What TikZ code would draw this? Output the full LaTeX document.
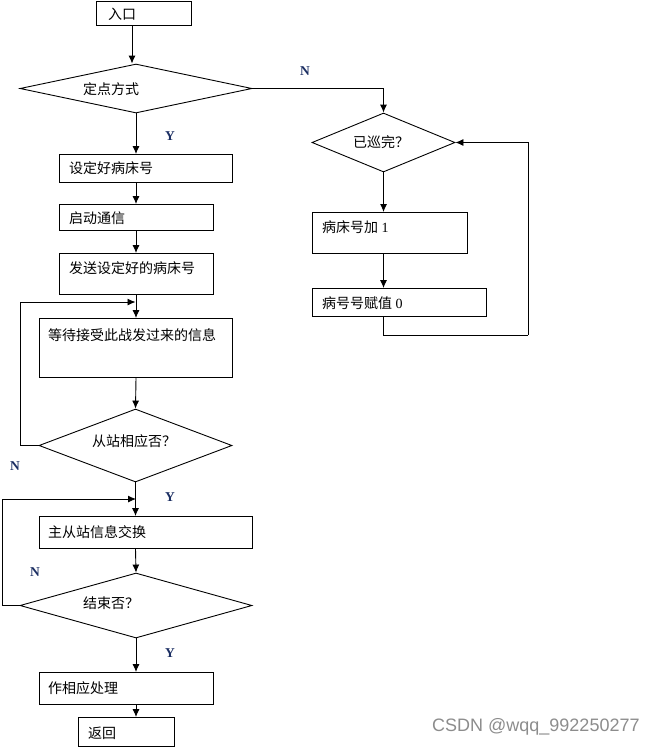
\documentclass[tikz,border=0pt]{standalone}
\usepackage{fontspec}
\setmainfont{Liberation Serif}
\newfontfamily\cjk{Noto Sans CJK SC}
\newfontfamily\marksans{Liberation Sans}
\usetikzlibrary{shapes.geometric,arrows.meta,positioning}
\definecolor{ynblue}{HTML}{1C2F63}
\tikzset{
  box/.style={draw=black,line width=0.9pt,rectangle,inner sep=0pt,anchor=north west},
  decision/.style={draw=black,line width=0.9pt,shape=diamond,inner sep=0pt},
  txt/.style={font=\fontsize{14}{16}\selectfont,inner sep=0pt,anchor=west},
  yn/.style={font=\fontsize{13.5}{15}\selectfont\bfseries,text=ynblue,inner sep=0pt},
  line/.style={line width=0.9pt}
}
\begin{document}
\begin{tikzpicture}[x=1pt,y=-1pt,>={Latex[length=8pt,width=7pt]}]
  \useasboundingbox (0,0) rectangle (660,747);

  % left column
  \node[box,minimum width=95pt,minimum height=24pt] (entry) at (96,1) {};
  \node[txt] (entryT) at (108,14) {\cjk 入口};

  \node[decision,minimum width=232pt,minimum height=49pt] (mode) at (136,88.5) {};
  \node[txt] (modeT) at (83,89) {\cjk 定点方式};

  \node[box,minimum width=173pt,minimum height=28pt] (set) at (59,154) {};
  \node[txt] (setT) at (69,168) {\cjk 设定好病床号};

  \node[box,minimum width=154pt,minimum height=26pt] (comm) at (59,204) {};
  \node[txt] (commT) at (69,218) {\cjk 启动通信};

  \node[box,minimum width=154pt,minimum height=41pt] (send) at (59,253) {};
  \node[txt] (sendT) at (69,268) {\cjk 发送设定好的病床号};

  \node[box,minimum width=193pt,minimum height=59pt] (wait) at (39,318) {};
  \node[txt] (waitT) at (48,335) {\cjk 等待接受此战发过来的信息};

  \node[decision,minimum width=193pt,minimum height=73pt] (reply) at (135.5,445.5) {};
  \node[txt] (replyT) at (92,441) {\cjk 从站相应否？};

  \node[box,minimum width=213pt,minimum height=32pt] (swap) at (39,516) {};
  \node[txt] (swapT) at (48,532) {\cjk 主从站信息交换};

  \node[decision,minimum width=232pt,minimum height=65pt] (over) at (136,605.5) {};
  \node[txt] (overT) at (83,603) {\cjk 结束否？};

  \node[box,minimum width=174pt,minimum height=32pt] (proc) at (39,672) {};
  \node[txt] (procT) at (48,688) {\cjk 作相应处理};

  \node[box,minimum width=96pt,minimum height=29pt] (ret) at (78,717) {};
  \node[txt] (retT) at (88,733) {\cjk 返回};

  % right column
  \node[decision,minimum width=143pt,minimum height=59pt] (done) at (383.5,142.5) {};
  \node[txt] (doneT) at (353,142) {\cjk 已巡完？};

  \node[box,minimum width=155pt,minimum height=41pt] (add) at (312,212) {};
  \node[txt] (addT) at (322,227) {{\cjk 病床号加} 1};

  \node[box,minimum width=174pt,minimum height=28pt] (zero) at (312,288) {};
  \node[txt] (zeroT) at (322,303) {{\cjk 病号号赋值} 0};

  % labels
  \node[yn] (n1) at (305,71) {N};
  \node[yn] (y1) at (170,136) {Y};
  \node[yn] (n2) at (15,466) {N};
  \node[yn] (y2) at (170,497) {Y};
  \node[yn] (n3) at (35,572) {N};
  \node[yn] (y3) at (170,653) {Y};

  % corners
  \coordinate (c1) at (528,335);
  \coordinate (c2) at (20,302);
  \coordinate (c3) at (2,499);

  % connectors
  \draw[line,->] (entry.south -| 132,0) -- (mode.north -| 132,0);
  \draw[line,->] (mode.south) -- (set.north -| mode);
  \draw[line,->] (set.south -| mode) -- (comm.north -| mode);
  \draw[line,->] (comm.south -| mode) -- (send.north -| mode);
  \draw[line,->] (send.south -| mode) -- (wait.north -| mode);
  \draw[line,->] (wait.south -| mode) -- (reply.north);
  \draw[line,->] (reply.south) -- (swap.north -| reply);
  \draw[line,->] (swap.south -| reply) -- (over.north);
  \draw[line,->] (over.south) -- (proc.north -| over);
  \draw[line,->] (proc.south -| over) -- (ret.north -| over);

  \draw[line] (reply.west) -| (c2);
  \draw[line,->] (c2) -- (c2 -| reply);
  \draw[line] (over.west) -| (c3);
  \draw[line,->] (c3) -- (c3 -| over);

  \draw[line,->] (mode.east) -| (done.north);
  \draw[line,->] (done.south) -- (add.north -| done);
  \draw[line,->] (add.south -| done) -- (zero.north -| done);
  \draw[line] (zero.south -| done) |- (c1);
  \draw[line,->] (c1) |- (done.east);

  % watermark
  \node[font=\fontsize{18}{20}\selectfont\marksans,text=black!45,anchor=west,inner sep=0pt] (mark) at (432,727) {CSDN @wqq\_992250277};
\end{tikzpicture}
\end{document}
